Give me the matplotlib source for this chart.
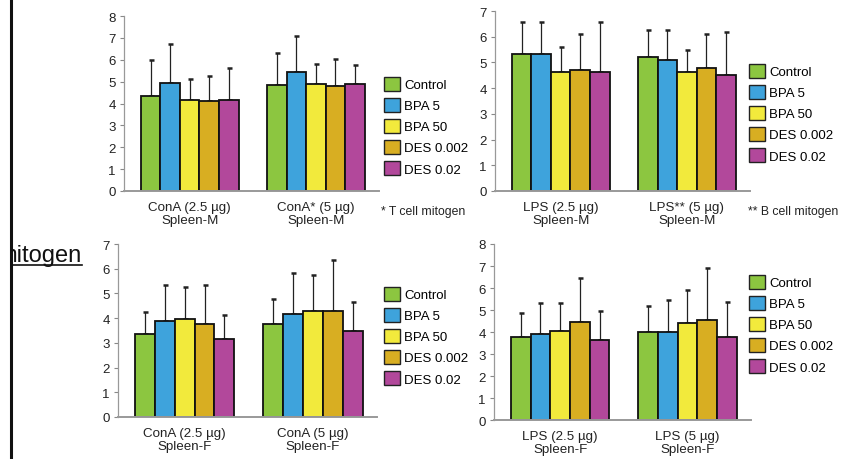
import numpy as np
import matplotlib
matplotlib.use("Agg")
import matplotlib.pyplot as plt
from matplotlib.patches import Patch

plt.rcParams['font.family'] = ['Liberation Sans', 'DejaVu Sans']

treatments = ['Control', 'BPA 5', 'BPA 50', 'DES 0.002', 'DES 0.02']
colors = ['#8cc640', '#3ea3dc', '#f2ea3c', '#d8ae22', '#b2489b']

# proliferation index, rows = treatment, cols = stimulus dose
conA_m_mean = [[4.33, 4.83], [4.95, 5.43], [4.18, 4.90], [4.10, 4.80], [4.18, 4.90]]
conA_m_sd = [[1.67, 1.47], [1.79, 1.65], [0.94, 0.90], [1.18, 1.25], [1.44, 0.87]]
conA_m_labels = ['ConA (2.5 µg)\nSpleen-M', 'ConA* (5 µg)\nSpleen-M']

lps_m_mean = [[5.31, 5.20], [5.33, 5.10], [4.62, 4.62], [4.71, 4.80], [4.62, 4.51]]
lps_m_sd = [[1.27, 1.08], [1.25, 1.18], [0.97, 0.88], [1.39, 1.30], [1.96, 1.69]]
lps_m_labels = ['LPS (2.5 µg)\nSpleen-M', 'LPS** (5 µg)\nSpleen-M']

conA_f_mean = [[3.36, 3.78], [3.88, 4.18], [3.95, 4.28], [3.77, 4.28], [3.17, 3.47]]
conA_f_sd = [[0.89, 0.98], [1.46, 1.64], [1.30, 1.47], [1.57, 2.06], [0.96, 1.17]]
conA_f_labels = ['ConA (2.5 µg)\nSpleen-F', 'ConA (5 µg)\nSpleen-F']

lps_f_mean = [[3.79, 4.00], [3.93, 4.00], [4.03, 4.43], [4.44, 4.53], [3.64, 3.79]]
lps_f_sd = [[1.09, 1.17], [1.40, 1.46], [1.30, 1.47], [2.03, 2.37], [1.33, 1.59]]
lps_f_labels = ['LPS (2.5 µg)\nSpleen-F', 'LPS (5 µg)\nSpleen-F']

W, H = 846, 460
fig = plt.figure(figsize=(W / 100, H / 100), dpi=100)


def px_axes(x0, x1, ytop, ybot):
    return fig.add_axes([x0 / W, 1 - ybot / H, (x1 - x0) / W, (ybot - ytop) / H])


def panel(ax, means, sds, labels, ymax):
    means = np.array(means)
    sds = np.array(sds)
    x = np.arange(2)
    width = 0.155
    for i in range(len(treatments)):
        pos = x + (i - 2) * width
        ax.bar(pos, means[i], width, color=colors[i], edgecolor='#111111',
               linewidth=1.3, zorder=2)
        ax.errorbar(pos, means[i], yerr=[np.zeros(2), sds[i]], fmt='none',
                    ecolor='#222222', elinewidth=0.9, capsize=1.8, capthick=1.8,
                    zorder=1)
    ax.set_xlim(-0.52, 1.5)
    ax.set_ylim(0, ymax)
    ax.set_yticks(range(ymax + 1))
    ax.set_xticks(x)
    ax.set_xticklabels(labels, fontsize=9.6, color='#222222', linespacing=1.1)
    ax.tick_params(axis='x', length=0, pad=7)
    ax.tick_params(axis='y', length=3, width=0.8, color='#888888',
                   labelsize=9.5, labelcolor='#222222', pad=3)
    for s in ['top', 'right']:
        ax.spines[s].set_visible(False)
    ax.spines['left'].set_color('#999999')
    ax.spines['left'].set_linewidth(0.9)
    ax.spines['bottom'].set_color('#999999')
    ax.spines['bottom'].set_linewidth(1.4)


ax1 = px_axes(124, 379, 17, 192)
panel(ax1, conA_m_mean, conA_m_sd, conA_m_labels, 8)
ax2 = px_axes(495, 750, 12, 192)
panel(ax2, lps_m_mean, lps_m_sd, lps_m_labels, 7)
ax3 = px_axes(118, 377, 245, 418)
panel(ax3, conA_f_mean, conA_f_sd, conA_f_labels, 7)
ax4 = px_axes(494, 751, 245, 421)
panel(ax4, lps_f_mean, lps_f_sd, lps_f_labels, 8)

handles = [Patch(facecolor=c, edgecolor='#222222', linewidth=1.0) for c in colors]
for lx, ly in [(384, 78), (749, 65), (384, 288), (749, 276)]:
    fig.legend(handles, treatments, loc='upper left',
               bbox_to_anchor=(lx / W, 1 - ly / H), frameon=False, fontsize=9.5,
               handlelength=1.2, handleheight=1.2, handletextpad=0.35,
               labelspacing=0.52, borderpad=0, borderaxespad=0)

fig.text(381 / W, 1 - 212 / H, '* T cell mitogen', fontsize=8.8, color='#222222',
         ha='left', va='center')
fig.text(748 / W, 1 - 212 / H, '** B cell mitogen', fontsize=8.8, color='#222222',
         ha='left', va='center')

# left margin: rule and heading clipped at the rule
fig.add_artist(plt.Line2D([10.5 / W, 10.5 / W], [0, 1], color='#111111', linewidth=2.2))
side = px_axes(11, 111, 230, 290)
side.axis('off')
side.set_xlim(11, 111)
side.set_ylim(290, 230)
side.text(82, 262, 'mitogen', fontsize=17, color='#111111',
          ha='right', va='baseline', clip_on=True)
side.plot([11, 82], [265.5, 265.5], color='#111111', linewidth=1.2, clip_on=False)

fig.savefig('out.png', dpi=100)
